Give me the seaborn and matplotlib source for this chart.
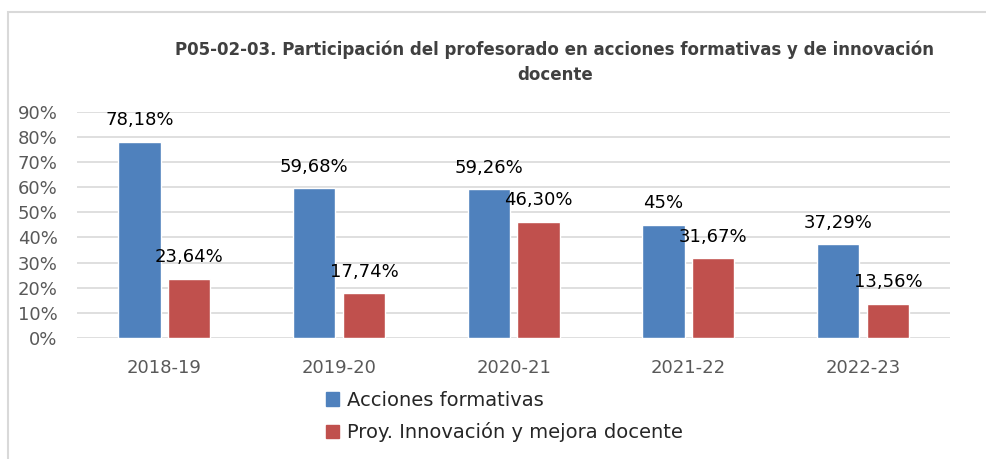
import pandas as pd
import matplotlib.pyplot as plt
import matplotlib.patches as mpatches
import seaborn as sns

# Data
cursos = ["2018-19", "2019-20", "2020-21", "2021-22", "2022-23"]
acciones = [78.18, 59.68, 59.26, 45.00, 37.29]
proyectos = [23.64, 17.74, 46.30, 31.67, 13.56]
etiquetas_acciones = ["78,18%", "59,68%", "59,26%", "45%", "37,29%"]
etiquetas_proyectos = ["23,64%", "17,74%", "46,30%", "31,67%", "13,56%"]
series = ["Acciones formativas", "Proy. Innovación y mejora docente"]

data = pd.DataFrame({
    "Curso": cursos * 2,
    "Serie": [series[0]] * 5 + [series[1]] * 5,
    "Valor": [v / 100 for v in acciones + proyectos],
})

sns.set_style("white")
plt.rcParams["font.family"] = ["DejaVu Sans"]

fig = plt.figure(figsize=(9.87, 4.59), dpi=100)
ax = fig.add_axes([0.078, 0.264, 0.885, 0.492])

colores = ["#4F81BD", "#C0504D"]
sns.barplot(data=data, x="Curso", y="Valor", hue="Serie", palette=colores,
            width=0.57, gap=0.15, ax=ax, legend=False, saturation=1)

# Value labels
for cont, labels in zip(ax.containers, [etiquetas_acciones, etiquetas_proyectos]):
    ax.bar_label(cont, labels=labels, padding=9, fontsize=13, color="#000000")

ax.set_ylim(0, 0.9)
ax.set_yticks([i / 10 for i in range(10)])
ax.set_yticklabels([f"{i * 10}%" for i in range(10)])
ax.yaxis.grid(True, color="#d9d9d9", linewidth=1.2)
ax.set_axisbelow(True)
for s in ax.spines.values():
    s.set_visible(False)
ax.tick_params(axis="y", length=0, pad=14, labelsize=13, labelcolor="#595959")
ax.tick_params(axis="x", length=0, pad=15, labelsize=13, labelcolor="#595959")
ax.set_xlabel("")
ax.set_ylabel("")
ax.set_xlim(-0.5, 4.5)

fig.text(0.562, 0.865, "P05-02-03. Participación del profesorado en acciones formativas y de innovación\ndocente",
         ha="center", va="center", fontsize=12, fontweight="bold", color="#404040",
         linespacing=1.5)

handles = [mpatches.Patch(color=c, label=l) for c, l in zip(colores, series)]
fig.legend(handles=handles, loc="upper left", bbox_to_anchor=(0.322, 0.166),
           frameon=False, fontsize=14, handlelength=0.7, handleheight=0.7,
           handletextpad=0.4, labelspacing=0.65, borderaxespad=0)

# Outer chart frame
fig.patches.append(mpatches.Rectangle((8 / 987, -0.1), 1.2, (459 - 12) / 459 + 0.1,
                                      transform=fig.transFigure, fill=False,
                                      edgecolor="#d9d9d9", linewidth=1.5))

fig.savefig("out.png", dpi=100)
